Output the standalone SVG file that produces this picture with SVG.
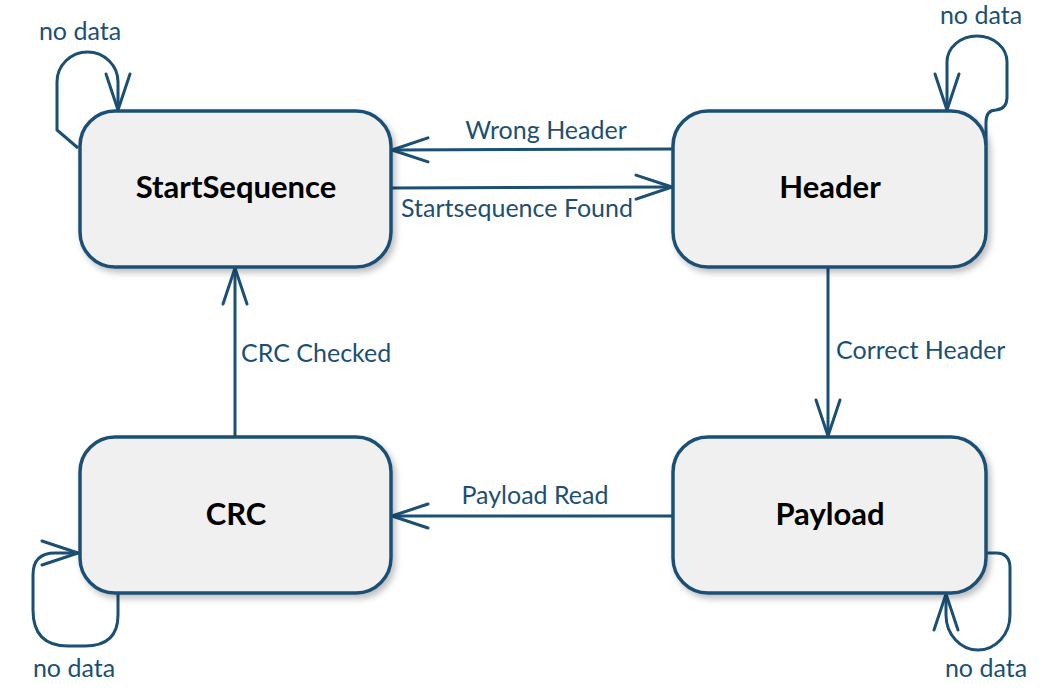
<svg xmlns="http://www.w3.org/2000/svg" width="1057" height="696" viewBox="0 0 1057 696">
<style>
.node{fill:#f0f0f0;stroke:#1b5074;stroke-width:3.5;filter:url(#sh)}
.nl{font-family:Lato,"Liberation Sans",sans-serif;font-weight:bold;font-size:31px;fill:#000;text-anchor:middle}
.c{fill:none;stroke:#1b5074;stroke-width:3;marker-end:url(#ah)}
.el{font-family:Lato,"Liberation Sans",sans-serif;font-size:25px;fill:#1b5074}
</style>
<defs>
<filter id="sh" x="-10%" y="-10%" width="125%" height="130%">
<feDropShadow dx="3" dy="4" stdDeviation="3" flood-color="#000" flood-opacity="0.25"/>
</filter>
<marker id="ah" viewBox="0 0 40 28" refX="38" refY="14" markerWidth="40" markerHeight="28" markerUnits="userSpaceOnUse" orient="auto">
<path d="M2,2 L38,14 L2,26" fill="none" stroke="#1b5074" stroke-width="3" stroke-linecap="round" stroke-linejoin="round"/>
</marker>
</defs>
<rect width="1057" height="696" fill="#fff"/>
<g id="connectors">
<path class="c" d="M673,149 L392,150"/>
<path class="c" d="M391,188 L672,187"/>
<path class="c" d="M828,267 L828,436"/>
<path class="c" d="M673,516 L392,516"/>
<path class="c" d="M235,437 L235,268"/>
<path class="c" d="M78,148 L57,130 L57,82 A30.5,30 0 0 1 118,82 L118,110"/>
<path class="c" d="M986,145 L986,122 Q986,110 996,110 Q1007,109 1007,97 L1007,62 A30,26 0 0 0 947,62 L947,110"/>
<path class="c" d="M118,593 L118,615 Q118,646 85,646 L68,646 Q33,646 33,610 L33,575 Q33,553 55,553 L78,553"/>
<path class="c" d="M986,553 L996,553 Q1010,553 1010,568 L1010,615 A32,35 0 0 1 946,615 L946,594"/>
<text class="el" x="546" y="139" text-anchor="middle">Wrong Header</text>
<text class="el" x="517" y="217" text-anchor="middle">Startsequence Found</text>
<text class="el" x="836" y="359">Correct Header</text>
<text class="el" x="535" y="504" text-anchor="middle">Payload Read</text>
<text class="el" x="241" y="362">CRC Checked</text>
<text class="el" x="80" y="40" text-anchor="middle">no data</text>
<text class="el" x="981" y="24" text-anchor="middle">no data</text>
<text class="el" x="74" y="677" text-anchor="middle">no data</text>
<text class="el" x="986" y="677" text-anchor="middle">no data</text>
</g>
<g id="StartSequence">
<rect class="node" x="80" y="111" width="311" height="156" rx="35"/>
<text class="nl" x="236" y="198">StartSequence</text>
</g>
<g id="Header">
<rect class="node" x="673" y="111" width="313" height="156" rx="35"/>
<text class="nl" x="830" y="198">Header</text>
</g>
<g id="CRC">
<rect class="node" x="80" y="437" width="311" height="156" rx="35"/>
<text class="nl" x="236" y="525">CRC</text>
</g>
<g id="Payload">
<rect class="node" x="673" y="437" width="313" height="156" rx="35"/>
<text class="nl" x="830" y="525">Payload</text>
</g>
</svg>
